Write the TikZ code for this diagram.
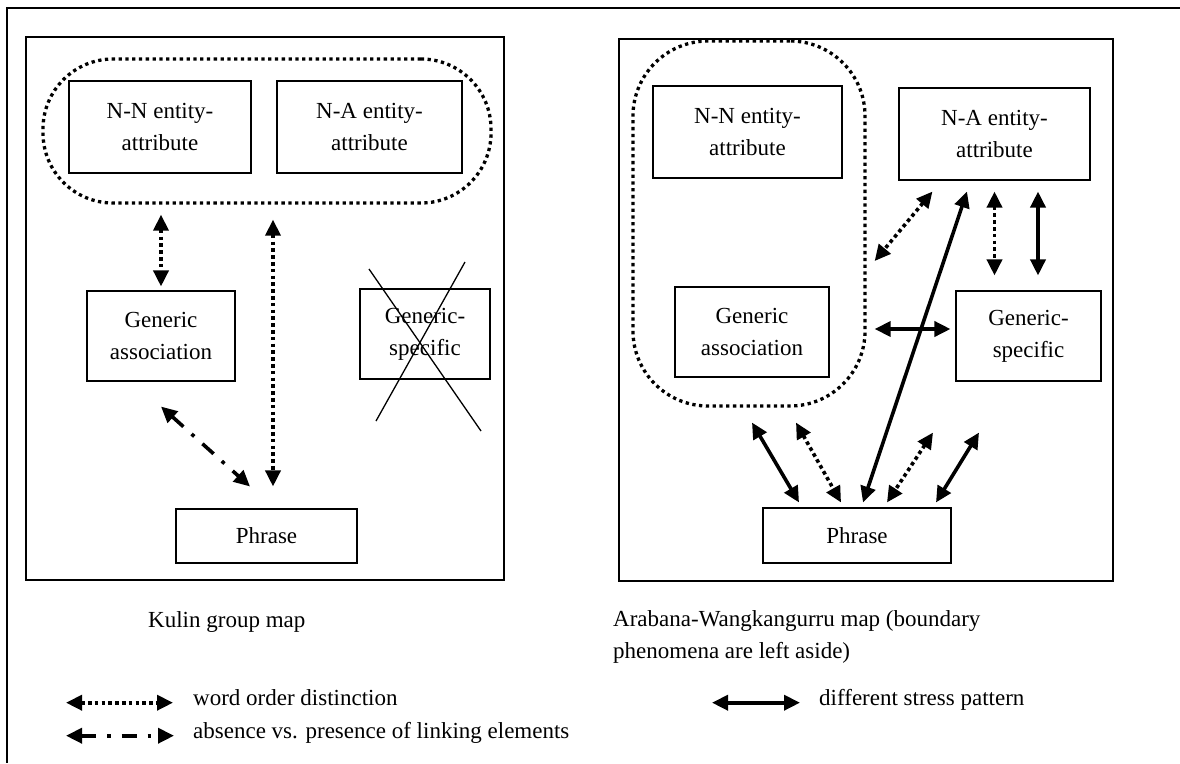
\documentclass[tikz,border=0pt]{standalone}
\usepackage{fontspec}
\setmainfont{Liberation Serif}
\usepackage{tikz}
\usetikzlibrary{arrows.meta, positioning, calc}
\tikzset{
	catbox/.style={draw, line width=1.1pt, align=center, inner sep=0pt},
	panelbox/.style={draw, line width=2.6pt},
	groupbox/.style={draw, line width=3.3pt, dash pattern=on 3.3pt off 3.5pt, inner sep=0pt},
	wordarr/.style={{Triangle[length=16pt,width=15pt]}-{Triangle[length=16pt,width=15pt]}, line width=3.6pt, dash pattern=on 3.6pt off 3.2pt},
	stressarr/.style={{Triangle[length=16pt,width=15pt]}-{Triangle[length=16pt,width=15pt]}, line width=3.6pt},
	linkarr/.style={{Triangle[length=16pt,width=15pt]}-{Triangle[length=16pt,width=15pt]}, line width=3.6pt, dash pattern=on 15pt off 11pt on 3.6pt off 11pt},
}

\begin{document}
\begin{tikzpicture}[
				x=1pt, y=-1pt,
				font=\fontsize{23}{32}\selectfont,
				capt/.style={inner sep=0pt, align=left},
				crossline/.style={line width=1.3pt}
				]
				\useasboundingbox (0,0) rectangle (1180,763);
				\draw[line width=1.6pt] (1180,8) -- (7,8) -- (7,763);
				\draw[panelbox] (26,37) rectangle (504,580);
				\draw[panelbox] (619,39) rectangle (1113,581);
				\node[catbox, minimum width=182pt, minimum height=92pt] (lnn) at (160,127) {N-N entity-\\attribute};
				\node[catbox, minimum width=185pt, minimum height=92pt] (lna) at (369.5,127) {N-A entity-\\attribute};
				\node[groupbox, rounded corners=70pt, minimum width=448pt, minimum height=144pt] (lgrp) at (267,131) {};
				\node[catbox, minimum width=148pt, minimum height=90pt] (lga) at (161,336) {Generic\\association};
				\node[catbox, minimum width=130pt, minimum height=90pt] (lgs) at (425,334) {Generic-\\specific};
				\node[catbox, minimum width=181pt, minimum height=54pt] (lph) at (266.5,536) {Phrase};
				\draw[wordarr, shorten <=10pt, shorten >=4pt] (lga.north |- lgrp.south) -- (lga.north);
				\draw[wordarr] ($(lph.north |- lgrp.south)+(6.5,15)$) -- ($(lph.north)+(6.5,-22)$);
				\draw[linkarr] ($(lga.south)+(0,25)$) -- ($(lph.north)+(-16.5,-22)$);
				\draw[crossline] ($(lgs.center)+(-56,-65)$) -- ($(lgs.center)+(56,97)$);
				\draw[crossline] ($(lgs.center)+(40,-72)$) -- ($(lgs.center)+(-49,87)$);
				\node[catbox, minimum width=189pt, minimum height=92pt] (rnn) at (747.5,132) {N-N entity-\\attribute};
				\node[catbox, minimum width=191pt, minimum height=92pt] (rna) at (994.5,134) {N-A entity-\\attribute};
				\node[catbox, minimum width=154pt, minimum height=90pt] (rga) at (752,332) {Generic\\association};
				\node[catbox, minimum width=145pt, minimum height=90pt] (rgs) at (1028.5,336) {Generic-\\specific};
				\node[catbox, minimum width=188pt, minimum height=55pt] (rph) at (857,535.5) {Phrase};
				\node[groupbox, rounded corners=75pt, minimum width=232pt, minimum height=365pt] (rgrp) at (749,223.5) {};
				\draw[wordarr] ($(rna.south west)+(34,11)$) -- ($(rgrp.east)+(8,37.5)$);
				\draw[stressarr] ($(rph.north)+(6,-5)$) -- ($(rna.south)+(-27.5,11)$);
				\draw[wordarr, shorten <=11pt, shorten >=15pt] (rna.south) -- (rna.south |- rgs.north);
				\draw[stressarr, shorten <=11pt, shorten >=15pt] ($(rna.south)+(43.5,0)$) -- ($(rna.south |- rgs.north)+(43.5,0)$);
				\draw[stressarr] ($(rgrp.east)+(8,105.5)$) -- ($(rgs.west)+(-5,-7)$);
				\draw[stressarr] ($(rga.south)+(0,45)$) -- ($(rph.north)+(-58,-5)$);
				\draw[wordarr] ($(rga.south)+(44,45)$) -- ($(rph.north)+(-16,-5)$);
				\draw[wordarr] ($(rgs.south)+(-95.5,51)$) -- ($(rph.north)+(30,-5)$);
				\draw[stressarr] ($(rgs.south)+(-49.5,51)$) -- ($(rph.north)+(79,-5)$);
				\node[capt, anchor=base west] (lcap) at (148,627) {Kulin group map};
				\node[capt, anchor=north west] (rcap) at (613,610) {Arabana-Wangkangurru map (boundary\\phenomena are left aside)};
				\node[capt, anchor=base west] (lgword) at (193,705) {word order distinction};
				\node[capt, anchor=base west] (lglink) at (193,738) {absence vs. presence of linking elements};
				\node[capt, anchor=base west] (lgstress) at (819,705) {different stress pattern};
				\draw[wordarr] ($(lgword.mid west)+(-127,0)$) -- ($(lgword.mid west)+(-20,0)$);
				\draw[linkarr] ($(lglink.mid west)+(-127,0)$) -- ($(lglink.mid west)+(-19,0)$);
				\draw[stressarr] ($(lgstress.mid west)+(-107,0)$) -- ($(lgstress.mid west)+(-19,0)$);
			\end{tikzpicture}
\end{document}
